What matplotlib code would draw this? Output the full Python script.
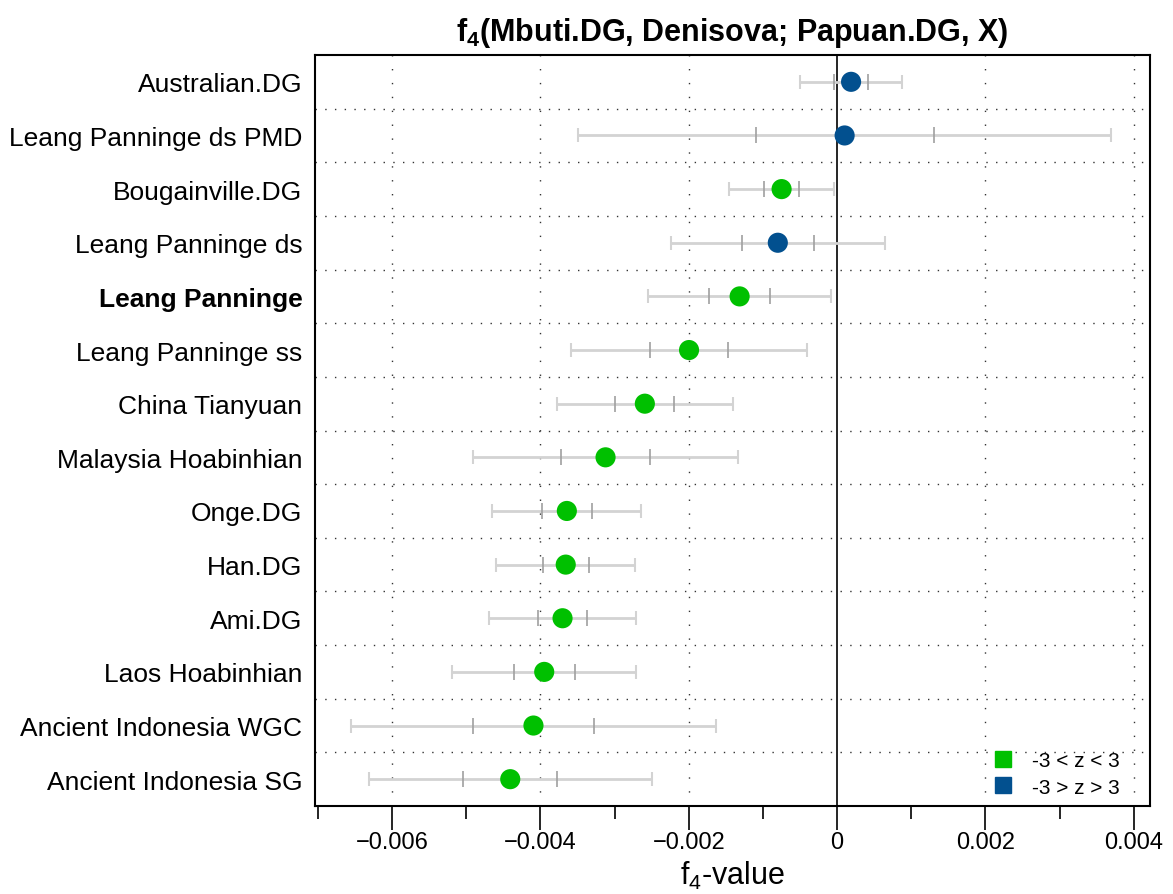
import numpy as np
import matplotlib
matplotlib.use("Agg")
from matplotlib import pyplot as plt
from matplotlib.lines import Line2D

plt.rcParams['font.family'] = ['Liberation Sans', 'DejaVu Sans']
plt.rcParams['mathtext.fontset'] = 'custom'
plt.rcParams['mathtext.rm'] = 'Liberation Sans'
plt.rcParams['mathtext.bf'] = 'Liberation Sans:bold'

# rows from top to bottom
names = ["Australian.DG", "Leang Panninge ds PMD", "Bougainville.DG", "Leang Panninge ds",
         "Leang Panninge", "Leang Panninge ss", "China Tianyuan", "Malaysia Hoabinhian",
         "Onge.DG", "Han.DG", "Ami.DG", "Laos Hoabinhian", "Ancient Indonesia WGC",
         "Ancient Indonesia SG"]
f4 = [0.000189, 0.000102, -0.000748, -0.000799, -0.001314, -0.001996, -0.002592,
      -0.003122, -0.003644, -0.003659, -0.003702, -0.003949, -0.004094, -0.004407]
se = [0.000229, 0.001199, 0.000235, 0.000482, 0.000411, 0.000532, 0.000397,
      0.000597, 0.000335, 0.000312, 0.000329, 0.000414, 0.000821, 0.000636]
group = ["blue", "blue", "green", "blue", "green", "green", "green",
         "green", "green", "green", "green", "green", "green", "green"]
bold_name = "Leang Panninge"

xticks = [-0.006, -0.004, -0.002, 0, 0.002, 0.004]
xtick_labels = ["\u22120.006", "\u22120.004", "\u22120.002", "0", "0.002", "0.004"]
legend_labels = ["-3 < z < 3", "-3 > z > 3"]

colors = {"green": "#00C000", "blue": "#02508F"}

f4 = np.array(f4)
se = np.array(se)
y = np.arange(len(names))

fig = plt.figure(figsize=(11.73, 8.95), dpi=100)
ax = fig.add_axes([315 / 1173, 1 - 807 / 895, (1150 - 315) / 1173, (807 - 56) / 895])

# grid
for yy in np.arange(0.5, len(names) - 1, 1.0):
    ax.axhline(yy, color='#333333', linewidth=1.0, linestyle=(0, (1, 6)), zorder=1)
for xx in xticks:
    if xx != 0:
        ax.axvline(xx, color='#333333', linewidth=1.0, linestyle=(0, (1, 9)), zorder=1)
ax.axvline(0, color='black', linewidth=1.2, zorder=1)

# error bars: +-3 SE whiskers, +-1 SE ticks
ax.errorbar(f4, y, xerr=3 * se, fmt='none', ecolor='#D3D3D3', elinewidth=2,
            capsize=5, capthick=1.5, zorder=2)
ax.plot(np.concatenate([f4 - se, f4 + se]), np.concatenate([y, y]), linestyle='none',
        marker='|', markersize=11, markeredgewidth=1.2, color='#A0A0A0', zorder=3)

for g in ["green", "blue"]:
    m = np.array([k == g for k in group])
    ax.scatter(f4[m], y[m], s=210, color=colors[g], edgecolors='none', zorder=4)

ax.set_xlim(-0.00704, 0.00422)
ax.set_ylim(len(names) - 0.5, -0.5)

ax.set_yticks(y)
ax.set_yticklabels(names, fontsize=19)
for lab in ax.get_yticklabels():
    if lab.get_text() == bold_name:
        lab.set_fontweight('bold')
ax.tick_params(axis='y', length=0, pad=9)

ax.set_xticks(xticks)
ax.set_xticklabels(xtick_labels, fontsize=17)
ax.set_xticks(np.arange(-0.007, 0.0041, 0.001), minor=True)
ax.tick_params(axis='x', which='major', direction='out', length=17, width=1.2, pad=1)
ax.tick_params(axis='x', which='minor', direction='out', length=9, width=1.2)

for s in ax.spines.values():
    s.set_linewidth(1.5)

ax.set_xlabel(r"f$_4$-value", fontsize=22, labelpad=4)
ax.set_title(r"f$_\mathbf{4}$(Mbuti.DG, Denisova; Papuan.DG, X)", fontsize=22,
             fontweight='bold', pad=11)

handles = [Line2D([], [], linestyle='none', marker='s', markersize=11,
                  color=colors["green"]),
           Line2D([], [], linestyle='none', marker='s', markersize=11,
                  color=colors["blue"])]
ax.legend(handles, legend_labels, loc='lower right', frameon=False, fontsize=15,
          handletextpad=0.4, labelspacing=0.35, borderaxespad=0.05,
          bbox_to_anchor=(0.975, 0.0))

fig.savefig("out.png", dpi=100)
